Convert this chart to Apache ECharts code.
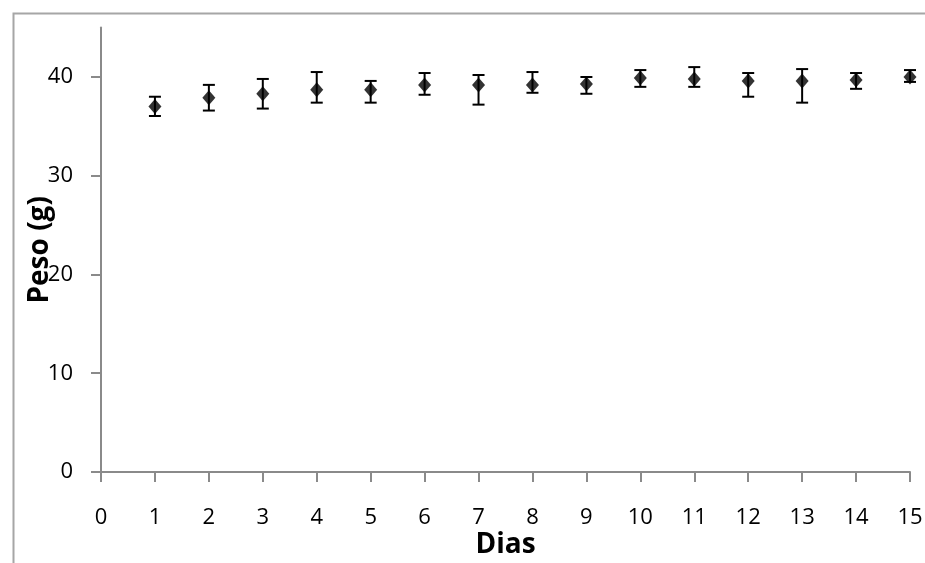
<!DOCTYPE html>
<html>
<head>
<meta charset="utf-8">
<script src="https://cdn.jsdelivr.net/npm/echarts@6/dist/echarts.min.js"></script>
<style>
html,body{margin:0;padding:0;background:#fff;}
#c{width:925px;height:563px;}
</style>
</head>
<body>
<div id="c"></div>
<script>
var days = [1,2,3,4,5,6,7,8,9,10,11,12,13,14,15];
var peso = [37.0,37.9,38.3,38.7,38.7,39.2,39.2,39.2,39.3,39.9,39.8,39.6,39.6,39.7,40.0];
var errHigh = [38.0,39.2,39.8,40.5,39.6,40.4,40.2,40.5,40.0,40.7,41.0,40.4,40.8,40.4,40.7];
var errLow = [36.05,36.6,36.8,37.4,37.4,38.2,37.2,38.4,38.3,39.0,39.0,38.0,37.4,38.8,39.5];
var yTicks = [0,10,20,30,40];
var xLabel = 'Dias';
var yLabel = 'Peso (g)';

var chart = echarts.init(document.getElementById('c'));
var font = '"Open Sans", sans-serif';
var axisColor = '#8a8a8a';
var pts = days.map(function(d,i){return [d, peso[i]];});
var errs = days.map(function(d,i){return [d, errLow[i], errHigh[i]];});

chart.setOption({
  animation:false,
  backgroundColor:'#fff',
  graphic:[{
    type:'rect', left:11, top:11, silent:true,
    shape:{x:0,y:0,width:1000,height:1000},
    style:{fill:'none', stroke:'#a6a6a6', lineWidth:2}
  }],
  grid:{left:101, right:15, top:27.6, bottom:91, containLabel:false, outerBoundsMode:'none'},
  xAxis:{
    type:'value', min:0, max:15, interval:1,
    name:xLabel, nameLocation:'middle', nameGap:59, nameMoveOverlap:false,
    nameTextStyle:{fontFamily:font, fontWeight:'bold', fontSize:28, color:'#000'},
    axisLine:{onZero:false, lineStyle:{color:axisColor, width:2}},
    axisTick:{show:true, length:10, lineStyle:{color:axisColor, width:2}},
    axisLabel:{fontFamily:font, fontSize:22, color:'#000', margin:35},
    splitLine:{show:false}
  },
  yAxis:{
    type:'value', min:0, max:45,
    name:yLabel, nameLocation:'middle', nameGap:47, nameMoveOverlap:false,
    nameTextStyle:{fontFamily:font, fontWeight:'bold', fontSize:28, color:'#000'},
    axisLine:{show:true, onZero:false, lineStyle:{color:axisColor, width:2}},
    axisTick:{show:true, length:10, customValues:yTicks, lineStyle:{color:axisColor, width:2}},
    axisLabel:{fontFamily:font, fontSize:22, color:'#000', margin:28, customValues:yTicks},
    splitLine:{show:false}
  },
  series:[{
    type:'custom',
    data:errs,
    z:2,
    renderItem:function(params, api){
      var x = api.value(0);
      var lo = api.coord([x, api.value(1)]);
      var hi = api.coord([x, api.value(2)]);
      var hw = 6;
      var st = {stroke:'#000', lineWidth:2, fill:null};
      return {type:'group', children:[
        {type:'line', shape:{x1:lo[0], y1:lo[1], x2:hi[0], y2:hi[1]}, style:st},
        {type:'line', shape:{x1:lo[0]-hw, y1:lo[1], x2:lo[0]+hw, y2:lo[1]}, style:st},
        {type:'line', shape:{x1:hi[0]-hw, y1:hi[1], x2:hi[0]+hw, y2:hi[1]}, style:st}
      ]};
    }
  },{
    type:'scatter',
    data:pts,
    z:3,
    symbol:'diamond',
    symbolSize:[13,15],
    itemStyle:{color:'#000'}
  }]
});
</script>
</body>
</html>
